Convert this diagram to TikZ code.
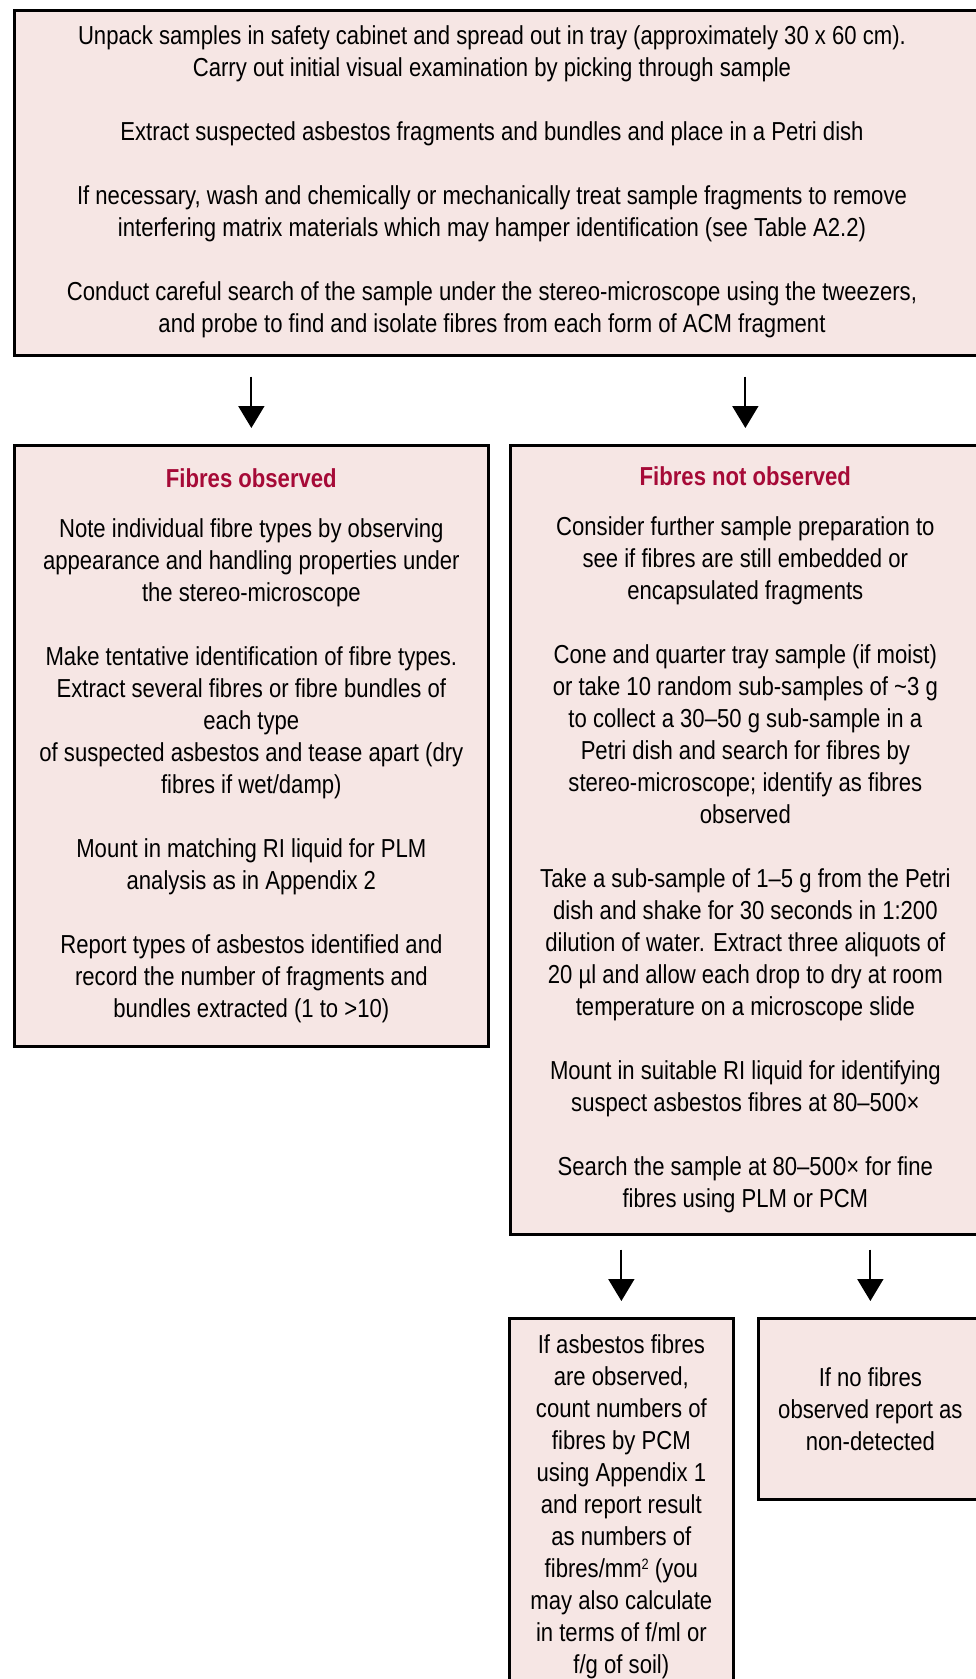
\documentclass[tikz,border=0pt]{standalone}
\usepackage{fontspec}
\setmainfont[FakeStretch=0.85]{Liberation Sans}
\usetikzlibrary{arrows.meta}
\definecolor{boxfill}{RGB}{246,230,228}
\definecolor{titlered}{RGB}{166,10,55}
\newlength{\pgap}\setlength{\pgap}{32pt}
\newlength{\tgap}\setlength{\tgap}{18pt}
\tikzset{
  box/.style={draw=black, fill=boxfill, line width=2.7pt, anchor=north west, inner sep=0pt},
  txt/.style={align=center, inner sep=0pt, font=\fontsize{26}{32}\selectfont},
  arr/.style={-{Triangle[width=26pt,length=22pt]}, line width=1.8pt, shorten <=14pt, shorten >=16pt}
}
\begin{document}
\begin{tikzpicture}[x=1pt,y=-1pt]
\path[use as bounding box] (0,0) rectangle (976,1679);
\clip (0,0) rectangle (976,1679);
% top box
\node[box, minimum width=985pt, minimum height=345pt] (top) at (13,9) {};
\node[txt] (toptext) at (492,182) {Unpack samples in safety cabinet and spread out in tray (approximately 30 x 60 cm).\\
Carry out initial visual examination by picking through sample\\[\pgap]
Extract suspected asbestos fragments and bundles and place in a Petri dish\\[\pgap]
If necessary, wash and chemically or mechanically treat sample fragments to remove\\
interfering matrix materials which may hamper identification (see Table A2.2)\\[\pgap]
Conduct careful search of the sample under the stereo-microscope using the tweezers,\\
and probe to find and isolate fibres from each form of ACM fragment};
% left box
\node[box, txt, anchor=north west, minimum width=474pt, minimum height=601pt] (left) at (13,444) {{\color{titlered}\bfseries Fibres observed}\\[\tgap]
Note individual fibre types by observing\\
appearance and handling properties under\\
the stereo-microscope\\[\pgap]
Make tentative identification of fibre types.\\
Extract several fibres or fibre bundles of\\
each type\\
of suspected asbestos and tease apart (dry\\
fibres if wet/damp)\\[\pgap]
Mount in matching RI liquid for PLM\\
analysis as in Appendix 2\\[\pgap]
Report types of asbestos identified and\\
record the number of fragments and\\
bundles extracted (1 to >10)};
% right box
\node[box, txt, anchor=north west, minimum width=470pt, minimum height=789pt] (right) at (509,444) {{\color{titlered}\bfseries Fibres not observed}\\[\tgap]
Consider further sample preparation to\\
see if fibres are still embedded or\\
encapsulated fragments\\[\pgap]
Cone and quarter tray sample (if moist)\\
or take 10 random sub-samples of \char"007E 3 g\\
to collect a 30–50 g sub-sample in a\\
Petri dish and search for fibres by\\
stereo-microscope; identify as fibres\\
observed\\[\pgap]
Take a sub-sample of 1–5 g from the Petri\\
dish and shake for 30 seconds in 1:200\\
dilution of water. Extract three aliquots of\\
20 µl and allow each drop to dry at room\\
temperature on a microscope slide\\[\pgap]
Mount in suitable RI liquid for identifying\\
suspect asbestos fibres at 80–500×\\[\pgap]
Search the sample at 80–500× for fine\\
fibres using PLM or PCM};
% bottom boxes
\node[box, txt, anchor=north west, minimum width=224pt, minimum height=376pt] (bl) at (508,1317) {If asbestos fibres\\
are observed,\\
count numbers of\\
fibres by PCM\\
using Appendix 1\\
and report result\\
as numbers of\\
fibres/mm{\fontsize{15}{15}\selectfont\raisebox{8pt}{2}} (you\\
may also calculate\\
in terms of f/ml or\\
f/g of soil)};
\node[box, txt, anchor=north west, minimum width=224pt, minimum height=181pt] (br) at (757,1317) {If no fibres\\
observed report as\\
non-detected};
% arrows
\draw[arr, shorten <=20pt] (top.south -| left.north) -- (left.north);
\draw[arr, shorten <=20pt] (top.south -| right.north) -- (right.north);
\draw[arr] (right.south -| bl.north) -- (bl.north);
\draw[arr] (right.south -| br.north) -- (br.north);
\end{tikzpicture}
\end{document}
